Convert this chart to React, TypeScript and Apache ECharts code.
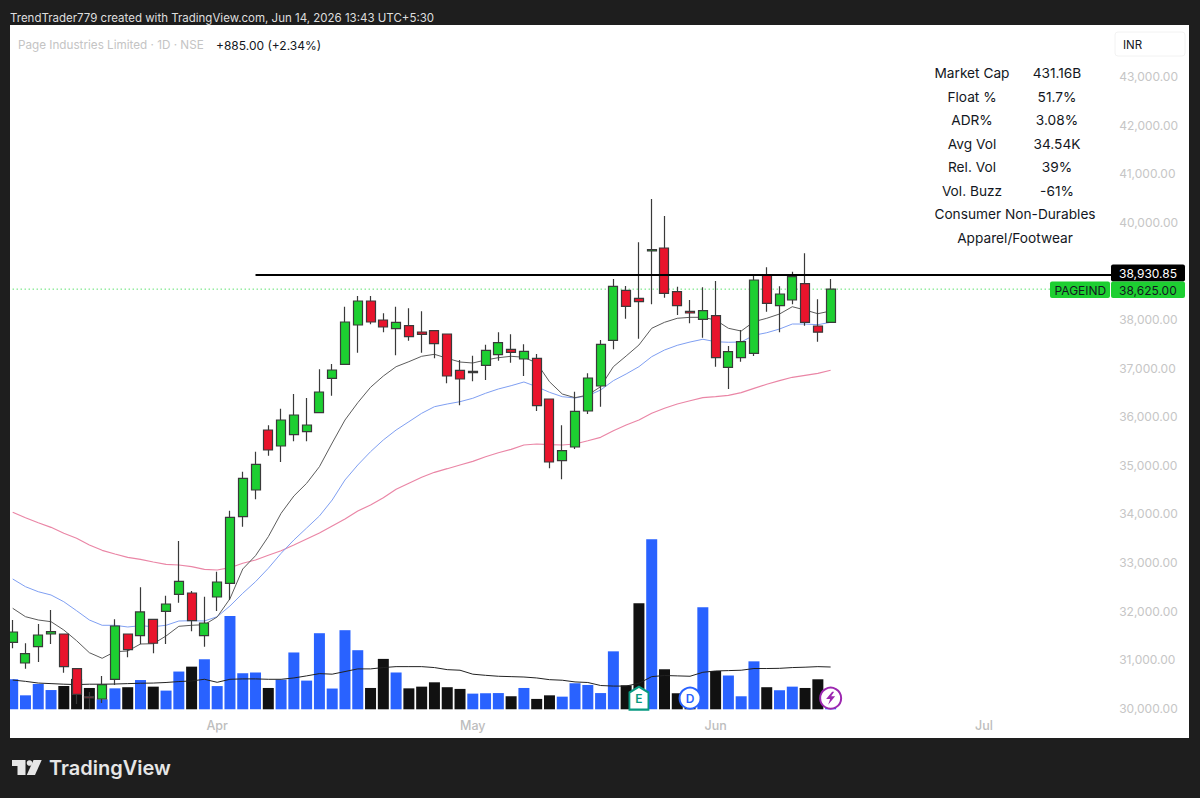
import React, { useEffect, useRef } from "react";
import * as echarts from "echarts";

const totalSlots = 87;
const monthTicks: [number, string][] = [[16, "Apr"], [36, "May"], [55, "Jun"], [76, "Jul"]];

// [open, close, low, high]
const candles: number[][] = [
  [31358,31570,31235,31817],[30932,31123,30815,31338],[31268,31508,30953,31735],[31529,31576,31323,32023],
  [31529,30856,30733,31529],[30815,30288,30089,30815],[30239,30212,29986,30335],[30191,30486,30109,30665],
  [30597,31693,30479,31831],[31529,31206,31049,31529],[31494,31982,31317,32490],[31831,31338,31132,31831],
  [31996,32146,31323,32317],[32346,32613,32173,33442],[32372,31803,31584,32414],[31494,31755,31268,32296],
  [32290,32599,32002,32811],[32572,33930,32228,34066],[33942,34733,33737,34868],[34492,35021,34300,35280],
  [35726,35315,35198,35823],[35397,35932,35068,36165],[35630,36035,35494,36467],[35691,35829,35494,36385],
  [36082,36508,36070,36975],[36790,36961,36432,37084],[37078,37949,37078,38263],[37887,38381,37317,38484],
  [38381,37949,37901,38484],[37990,37846,37737,38128],[37811,37942,37263,38263],[37872,37646,37564,38230],
  [37743,37695,37317,38169],[37770,37502,37202,37770],[37702,36837,36687,37702],[36955,36776,36235,37167],
  [36905,36934,36728,37255],[37058,37366,36755,37481],[37276,37523,37152,37737],[37387,37325,37111,37695],
  [37187,37346,36837,37490],[37202,36226,36117,37290],[36364,35068,34938,36364],[35095,35300,34712,35823],
  [35377,36111,35335,36514],[36117,36796,36056,36893],[36632,37490,36206,37578],[37572,38683,37387,38833],
  [38601,38272,38016,38689],[38436,38366,37605,39588],[39409,39436,38313,40479],[39471,38539,38449,40130],
  [38572,38284,38093,38675],[38169,38134,37922,38401],[38004,38181,37626,38663],[38078,37214,37029,38792],
  [37016,37337,36570,37455],[37214,37543,37132,37784],[37305,38813,37249,38916],[38916,38333,38160,39074],
  [38284,38525,37737,38683],[38401,38881,38313,38984],[38737,37942,37872,39362],[37866,37740,37543,38416],
  [37942,38625,37942,38833],
];

const ema10 = [32058,31885,31817,31782,31611,31391,31144,31029,31165,31179,31323,31329,31488,31687,31708,31720,31879,32255,32866,33140,33531,34012,34368,34630,34971,35459,35932,36288,36605,36837,37029,37132,37243,37284,37202,37125,37105,37167,37214,37243,37222,37105,36720,36467,36391,36446,36617,37029,37249,37475,37819,37942,38025,38045,38045,37990,37819,37763,37955,38025,38113,38263,38195,38119,38175];
const ema21 = [32661,32502,32399,32331,32193,32008,31817,31708,31708,31673,31700,31679,31708,31796,31803,31796,31885,32105,32366,32605,32881,33189,33463,33710,33957,34286,34698,35006,35280,35521,35726,35897,36070,36206,36261,36309,36379,36482,36570,36638,36714,36617,36502,36412,36385,36432,36549,36741,36879,37029,37235,37372,37469,37537,37593,37543,37531,37537,37675,37728,37804,37907,37907,37893,37942];
const sma50 = [34033,33922,33819,33724,33601,33498,33360,33251,33175,33107,33066,33010,32963,32949,32914,32860,32846,32893,32984,33051,33148,33243,33360,33484,33607,33751,33895,34060,34183,34333,34506,34630,34753,34856,34930,35006,35082,35177,35259,35329,35418,35438,35424,35418,35438,35506,35576,35712,35829,35932,36070,36173,36261,36329,36391,36412,36440,36494,36584,36667,36741,36811,36852,36893,36955];

// volume in thousands
const volumes = [28.6,20.1,26.1,22.9,25.0,28.8,24.0,18.0,23.8,24.4,28.2,24.7,22.6,32.7,35.3,39.2,25.0,62.1,31.8,32.2,24.0,28.4,42.8,27.9,53.0,23.7,54.6,44.0,24.0,39.4,32.2,23.8,24.7,27.0,24.4,23.5,21.0,21.2,21.3,19.6,24.0,18.2,20.1,19.4,26.5,25.6,21.3,43.4,25.4,68.9,102.8,33.9,21.2,14.3,66.8,33.0,30.6,19.6,38.1,24.4,22.8,24.7,24.0,28.6,13.4];
const blackVolumes = [4,5,6,9,11,14,20,28,29,31,32,33,34,35,39,41,42,48,49,51,52,53,55,59,62,63];
const volumeMa = [28.2,27.5,26.6,26.3,26.0,25.8,26.0,26.0,26.1,26.3,26.5,26.6,26.9,27.4,27.7,28.6,27.0,28.6,28.8,28.8,28.6,28.6,29.3,30.4,31.6,31.3,32.7,34.1,34.1,34.8,35.3,35.3,35.3,34.8,33.7,33.4,31.3,30.7,30.2,30.0,29.8,29.3,28.4,28.1,27.2,26.9,25.3,25.0,25.0,26.5,30.0,30.6,30.4,30.2,32.3,33.0,33.2,33.4,34.3,34.3,34.4,34.8,35.0,35.3,35.1];

const resistance = 38930.85;
const lastPrice = 38625;
const resistanceStart = 19;

const statRows: [string, string][] = [
  ["Market Cap", "431.16B"], ["Float %", "51.7%"], ["ADR%", "3.08%"],
  ["Avg Vol", "34.54K"], ["Rel. Vol", "39%"], ["Vol. Buzz", "-61%"],
];
const statFooter = ["Consumer Non-Durables", "Apparel/Footwear"];

const eventE = [[49, 18.6]];
const eventD = [[53, 18.6]];
const eventBolt = [[64, 18.6]];

const FONT = "Inter, 'Noto Sans', sans-serif";
const UP = "#1dcf31";
const DOWN = "#e9142c";

function txt(text: string, x: number, y: number, fill: string, size: number, align = "left", weight = 400) {
  return {
    type: "text", z: 120, silent: true,
    style: { text, x, y, fill, font: `${weight} ${size}px ${FONT}`, align, textAlign: align, verticalAlign: "middle", textVerticalAlign: "middle" },
  };
}
function box(x: number, y: number, width: number, height: number, fill: string, z = 110, r = 0, stroke?: string) {
  return { type: "rect", z, silent: true, shape: { x, y, width, height, r }, style: { fill, stroke, lineWidth: stroke ? 1 : 0 } };
}

export default function App() {
  const ref = useRef<HTMLDivElement>(null);
  useEffect(() => {
    document.body.style.margin = "0";
    const chart = echarts.init(ref.current!, undefined, { renderer: "svg" });
    const ticks = new Map(monthTicks);
    const categories = Array.from({ length: totalSlots }, (_, i) => ticks.get(i) ?? "");
    const gridLeft = 6.3;
    const gridWidth = 1111.9;

    const statGraphics: any[] = [];
    statRows.forEach(([k, v], i) => {
      const y = 73 + i * 23.5;
      statGraphics.push(txt(k, 972, y, "#131722", 13.7, "center"));
      statGraphics.push(txt(v, 1057, y, "#131722", 13.7, "center"));
    });
    statFooter.forEach((t, i) => statGraphics.push(txt(t, 1015, 214 + i * 23.5, "#131722", 13.7, "center")));

    chart.setOption({
      animation: false,
      backgroundColor: "#1e1e1e",
      tooltip: { show: false },
      grid: [
        { left: gridLeft, width: gridWidth, top: 76.5, height: 631.8 },
        { left: gridLeft, width: gridWidth, top: 529, height: 180.3 },
      ],
      xAxis: [
        {
          type: "category", data: categories, gridIndex: 0,
          axisLine: { show: false }, axisTick: { show: false }, splitLine: { show: false },
          axisLabel: { interval: 0, margin: 11, color: "#bdbdbd", fontFamily: FONT, fontSize: 12.5, fontWeight: 500, hideOverlap: false },
        },
        { type: "category", data: categories, gridIndex: 1, show: false },
      ],
      yAxis: [
        {
          type: "value", gridIndex: 0, position: "right", min: 30000, max: 43000, interval: 1000,
          axisLine: { show: false }, axisTick: { show: false }, splitLine: { show: false },
          axisLabel: {
            margin: 1, color: "#c6c6c6", fontFamily: FONT, fontSize: 12,
            formatter: (v: number) => v.toLocaleString("en-US", { minimumFractionDigits: 2 }),
          },
        },
        { type: "value", gridIndex: 1, min: 12.7, max: 108.2, show: false },
      ],
      series: [
        {
          type: "bar", xAxisIndex: 1, yAxisIndex: 1, z: 1, barWidth: 11,
          data: volumes.map((v, i) => ({ value: v, itemStyle: { color: blackVolumes.includes(i) ? "#111111" : "#2962ff" } })),
        },
        { type: "line", xAxisIndex: 1, yAxisIndex: 1, z: 2, data: volumeMa, symbol: "none", lineStyle: { color: "#222222", width: 1 } },
        { type: "line", z: 2, data: categories.map(() => lastPrice), symbol: "none", lineStyle: { color: "#14d42e", width: 1, type: [1, 3] } },
        { type: "line", z: 2, data: sma50, symbol: "none", lineStyle: { color: "#ea86a6", width: 1.2 } },
        { type: "line", z: 2, data: ema21, symbol: "none", lineStyle: { color: "#7f9ff2", width: 1 } },
        { type: "line", z: 2, data: ema10, symbol: "none", lineStyle: { color: "#5c5c5c", width: 1 } },
        {
          type: "candlestick", z: 3, barWidth: 9.5, data: candles,
          itemStyle: { color: UP, color0: DOWN, borderColor: "#3a3a3a", borderColor0: "#3a3a3a", borderWidth: 1.2 },
          markLine: {
            silent: true, symbol: "none", animation: false, z: 4,
            label: { show: false },
            data: [
              [{ coord: [resistanceStart, resistance], lineStyle: { color: "#000000", width: 2, type: "solid" } }, { coord: [totalSlots - 1, resistance] }],
            ],
          },
        },
        {
          type: "scatter", xAxisIndex: 1, yAxisIndex: 1, z: 6, data: eventE,
          symbol: "path://M10 0 L20 6 L20 24 L0 24 L0 6 Z", symbolSize: [19, 23],
          itemStyle: { color: "#ffffff", borderColor: "#089981", borderWidth: 2, opacity: 1 },
          label: { show: true, position: "inside", formatter: "E", color: "#089981", fontFamily: FONT, fontWeight: 600, fontSize: 12 },
        },
        {
          type: "scatter", xAxisIndex: 1, yAxisIndex: 1, z: 6, data: eventD, symbol: "circle", symbolSize: 21,
          itemStyle: { color: "#ffffff", borderColor: "#2962ff", borderWidth: 2, opacity: 1 },
          label: { show: true, position: "inside", formatter: "D", color: "#2962ff", fontFamily: FONT, fontWeight: 600, fontSize: 12 },
        },
        {
          type: "scatter", xAxisIndex: 1, yAxisIndex: 1, z: 6, data: eventBolt, symbol: "circle", symbolSize: 21,
          itemStyle: { color: "#ffffff", borderColor: "#9c27b0", borderWidth: 2, opacity: 1 },
        },
        {
          type: "scatter", xAxisIndex: 1, yAxisIndex: 1, z: 7, data: eventBolt,
          symbol: "path://M6 0 L0 8 L4 8 L2 14 L9 5 L5 5 L8 0 Z", symbolSize: [9, 13],
          itemStyle: { color: "#9c27b0", opacity: 1 },
        },
      ],
      graphic: [
        box(10, 25, 1179, 713, "#ffffff", -10),
        box(0, 25, 10, 713, "#1e1e1e", 100),
        // price scale tags
        box(1115, 32, 70, 24, "#ffffff", 110, 3, "#f2f2f2"),
        txt("INR", 1123, 44.5, "#131722", 11.5),
        box(1111, 264.5, 74, 17, "#000000", 110, 2),
        txt("38,930.85", 1119, 273, "#ffffff", 12),
        box(1111, 281.5, 74, 16.5, UP, 110, 2),
        txt("38,625.00", 1119, 290, "#131722", 12),
        box(1050, 281.5, 60, 16.5, UP, 110, 2),
        txt("PAGEIND", 1054.5, 290.5, "#131722", 12),
        // header and legend
        txt("TrendTrader779 created with TradingView.com, Jun 14, 2026 13:43 UTC+5:30", 10, 18, "#dedede", 11.5),
        txt("Page Industries Limited · 1D · NSE", 18, 45, "#c4c4c4", 11.7),
        txt("+885.00 (+2.34%)", 216, 45, "#131722", 12),
        ...statGraphics,
        // footer logo
        box(12, 760, 13.5, 6, "#e6e6e6", 110),
        box(17.5, 766, 8, 9, "#e6e6e6", 110),
        { type: "circle", z: 110, silent: true, shape: { cx: 29.5, cy: 763, r: 2.8 }, style: { fill: "#e6e6e6" } },
        { type: "polygon", z: 110, silent: true, shape: { points: [[33.5, 760], [41.7, 760], [35, 775], [26.8, 775]] }, style: { fill: "#e6e6e6" } },
        txt("TradingView", 49, 768, "#e6e6e6", 20, "left", 600),
      ],
    });
    return () => chart.dispose();
  }, []);
  return <div ref={ref} style={{ position: "absolute", left: 0, top: 0, width: 1200, height: 798 }} />;
}
